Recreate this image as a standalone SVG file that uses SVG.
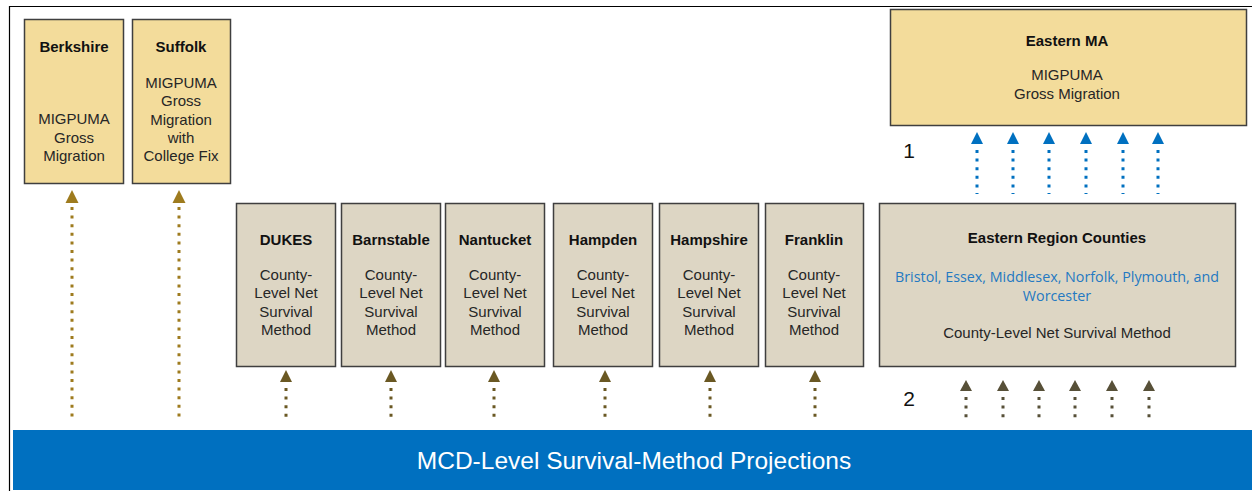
<svg xmlns="http://www.w3.org/2000/svg" width="1252" height="491" viewBox="0 0 1252 491">
<defs>
<style>
.tan{fill:#F3DC9B;stroke:#3F3F3F;stroke-width:1.5}
.gray{fill:#DDD6C4;stroke:#3F3F3F;stroke-width:1.5}
.t{font-family:"Liberation Sans",Arial,sans-serif;font-size:15px;fill:#262626;text-anchor:middle}
.b{font-family:"Liberation Sans",Arial,sans-serif;font-size:15px;font-weight:bold;fill:#111;text-anchor:middle}
.blue{font-family:"Open Sans","Noto Sans",sans-serif;font-size:14.3px;fill:#2479C2;text-anchor:middle}
.num{font-family:"Liberation Sans",Arial,sans-serif;font-size:21px;fill:#111;text-anchor:middle}
.dot{stroke-width:3;stroke-dasharray:3 5.6;fill:none}
.gold{stroke:#9E7B1E}
.goldh{fill:#9E7B1E}
.olive{stroke:#6A5823}
.oliveh{fill:#6A5823}
.dk{stroke:#575038}
.dkh{fill:#575038}
.bl{stroke:#0070C0}
.blh{fill:#0070C0}
</style>
</defs>
<rect x="0" y="0" width="1252" height="491" fill="#fff"/>
<path d="M9.5 491 V6.5 H1252" fill="none" stroke="#000" stroke-width="1.2"/>

<g id="bar">
<rect x="13" y="430" width="1239" height="60" fill="#0070C0"/>
<text x="634" y="469" font-family="'Liberation Sans',Arial,sans-serif" font-size="24.5" fill="#fff" text-anchor="middle">MCD-Level Survival-Method Projections</text>
</g>

<g id="berkshire">
<rect class="tan" x="24.5" y="19.5" width="99" height="164"/>
<text class="b" x="74" y="52">Berkshire</text>
<text class="t" x="74" y="124">MIGPUMA</text>
<text class="t" x="74" y="142.5">Gross</text>
<text class="t" x="74" y="161">Migration</text>
</g>
<g id="suffolk">
<rect class="tan" x="132.5" y="19.5" width="98" height="164"/>
<text class="b" x="181" y="52">Suffolk</text>
<text class="t" x="181" y="88">MIGPUMA</text>
<text class="t" x="181" y="106">Gross</text>
<text class="t" x="181" y="124.5">Migration</text>
<text class="t" x="181" y="142.5">with</text>
<text class="t" x="181" y="161">College Fix</text>
</g>
<g id="eastern-ma">
<rect class="tan" x="890.5" y="9.5" width="356" height="116"/>
<text class="b" x="1067" y="46">Eastern MA</text>
<text class="t" x="1067" y="80">MIGPUMA</text>
<text class="t" x="1067" y="99">Gross Migration</text>
</g>

<g id="dukes">
<rect class="gray" x="236.5" y="203.5" width="99" height="163"/>
<text class="b" x="286" y="245">DUKES</text>
<text class="t" x="286" y="280">County-</text>
<text class="t" x="286" y="298">Level Net</text>
<text class="t" x="286" y="316.5">Survival</text>
<text class="t" x="286" y="335">Method</text>
</g>
<g id="barnstable">
<rect class="gray" x="341.5" y="203.5" width="99" height="163"/>
<text class="b" x="391" y="245">Barnstable</text>
<text class="t" x="391" y="280">County-</text>
<text class="t" x="391" y="298">Level Net</text>
<text class="t" x="391" y="316.5">Survival</text>
<text class="t" x="391" y="335">Method</text>
</g>
<g id="nantucket">
<rect class="gray" x="445.5" y="203.5" width="99" height="163"/>
<text class="b" x="495" y="245">Nantucket</text>
<text class="t" x="495" y="280">County-</text>
<text class="t" x="495" y="298">Level Net</text>
<text class="t" x="495" y="316.5">Survival</text>
<text class="t" x="495" y="335">Method</text>
</g>
<g id="hampden">
<rect class="gray" x="553.5" y="203.5" width="99" height="163"/>
<text class="b" x="603" y="245">Hampden</text>
<text class="t" x="603" y="280">County-</text>
<text class="t" x="603" y="298">Level Net</text>
<text class="t" x="603" y="316.5">Survival</text>
<text class="t" x="603" y="335">Method</text>
</g>
<g id="hampshire">
<rect class="gray" x="659.5" y="203.5" width="99" height="163"/>
<text class="b" x="709" y="245">Hampshire</text>
<text class="t" x="709" y="280">County-</text>
<text class="t" x="709" y="298">Level Net</text>
<text class="t" x="709" y="316.5">Survival</text>
<text class="t" x="709" y="335">Method</text>
</g>
<g id="franklin">
<rect class="gray" x="765.5" y="203.5" width="98" height="163"/>
<text class="b" x="814" y="245">Franklin</text>
<text class="t" x="814" y="280">County-</text>
<text class="t" x="814" y="298">Level Net</text>
<text class="t" x="814" y="316.5">Survival</text>
<text class="t" x="814" y="335">Method</text>
</g>
<g id="eastern-region">
<rect class="gray" x="879.5" y="203.5" width="356" height="163"/>
<text class="b" x="1057" y="243">Eastern Region Counties</text>
<text class="blue" x="1057" y="282">Bristol, Essex, Middlesex, Norfolk, Plymouth, and</text>
<text class="blue" x="1057" y="301">Worcester</text>
<text class="t" x="1057" y="338">County-Level Net Survival Method</text>
</g>

<g id="labels">
<text class="num" x="909" y="158">1</text>
<text class="num" x="909" y="406">2</text>
</g>

<g id="connectors">
<line class="dot gold" x1="72" y1="207" x2="72" y2="420"/>
<line class="dot gold" x1="179" y1="207" x2="179" y2="420"/>
<polygon class="goldh" points="72,190 65.5,203 78.5,203"/>
<polygon class="goldh" points="179,190 172.5,203 185.5,203"/>

<line class="dot olive" x1="286" y1="388" x2="286" y2="420"/>
<line class="dot olive" x1="391" y1="388" x2="391" y2="420"/>
<line class="dot olive" x1="494" y1="388" x2="494" y2="420"/>
<line class="dot olive" x1="605" y1="388" x2="605" y2="420"/>
<line class="dot olive" x1="710" y1="388" x2="710" y2="420"/>
<line class="dot olive" x1="815" y1="388" x2="815" y2="420"/>
<polygon class="oliveh" points="286,370 280,382 292,382"/>
<polygon class="oliveh" points="391,370 385,382 397,382"/>
<polygon class="oliveh" points="494,370 488,382 500,382"/>
<polygon class="oliveh" points="605,370 599,382 611,382"/>
<polygon class="oliveh" points="710,370 704,382 716,382"/>
<polygon class="oliveh" points="815,370 809,382 821,382"/>

<line class="dot bl" x1="977" y1="150" x2="977" y2="194"/>
<line class="dot bl" x1="1013" y1="150" x2="1013" y2="194"/>
<line class="dot bl" x1="1049" y1="150" x2="1049" y2="194"/>
<line class="dot bl" x1="1086" y1="150" x2="1086" y2="194"/>
<line class="dot bl" x1="1123" y1="150" x2="1123" y2="194"/>
<line class="dot bl" x1="1158" y1="150" x2="1158" y2="194"/>
<polygon class="blh" points="977,132 971,144 983,144"/>
<polygon class="blh" points="1013,132 1007,144 1019,144"/>
<polygon class="blh" points="1049,132 1043,144 1055,144"/>
<polygon class="blh" points="1086,132 1080,144 1092,144"/>
<polygon class="blh" points="1123,132 1117,144 1129,144"/>
<polygon class="blh" points="1158,132 1152,144 1164,144"/>

<line class="dot dk" x1="966" y1="397" x2="966" y2="420"/>
<line class="dot dk" x1="1003" y1="397" x2="1003" y2="420"/>
<line class="dot dk" x1="1039" y1="397" x2="1039" y2="420"/>
<line class="dot dk" x1="1075" y1="397" x2="1075" y2="420"/>
<line class="dot dk" x1="1112" y1="397" x2="1112" y2="420"/>
<line class="dot dk" x1="1149" y1="397" x2="1149" y2="420"/>
<polygon class="dkh" points="966,380 960,391 972,391"/>
<polygon class="dkh" points="1003,380 997,391 1009,391"/>
<polygon class="dkh" points="1039,380 1033,391 1045,391"/>
<polygon class="dkh" points="1075,380 1069,391 1081,391"/>
<polygon class="dkh" points="1112,380 1106,391 1118,391"/>
<polygon class="dkh" points="1149,380 1143,391 1155,391"/>
</g>
</svg>
